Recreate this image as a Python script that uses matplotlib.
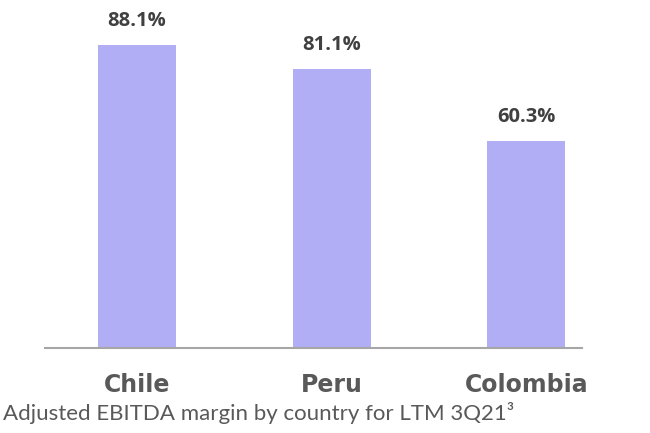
import numpy as np
import matplotlib
matplotlib.use('Agg')
import matplotlib.pyplot as plt

# Chart data
countries = ['Chile', 'Peru', 'Colombia']
margins = [88.1, 81.1, 60.3]
caption = 'Adjusted EBITDA margin by country for LTM 3Q21\u00b3'

W, H = 650, 433
fig = plt.figure(figsize=(W / 100, H / 100), dpi=100)
# axes placed in pixel coordinates of the reference
left, right, base, top = 45, 582, 348, 0
ax = fig.add_axes([left / W, 1 - base / H, (right - left) / W, (base - top) / H])

x = np.arange(len(countries))
ax.bar(x, margins, width=0.4, color='#B1AEF5', zorder=2)

ax.set_xlim(-0.47, 2.285)
ax.set_ylim(0, 101.2)

for xi, v in zip(x, margins):
    ax.text(xi, v + 4.0, f'{v:.1f}%', ha='center', va='bottom',
            fontsize=14.5, fontweight='bold', color='#404040', family='Open Sans')

# Axis styling
for s in ['top', 'right', 'left']:
    ax.spines[s].set_visible(False)
ax.spines['bottom'].set_color('#A6A6A6')
ax.spines['bottom'].set_linewidth(1.5)
ax.set_yticks([])
ax.set_xticks(x)
ax.set_xticklabels(countries, fontsize=17, fontweight='bold', color='#595959',
                   family='DejaVu Sans')
ax.tick_params(axis='x', length=0, pad=18)

fig.text(3 / W, 1 - 413 / H, caption, ha='left', va='center',
         fontsize=16, color='#595959', family='Lato')

fig.savefig('out.png', dpi=100)
